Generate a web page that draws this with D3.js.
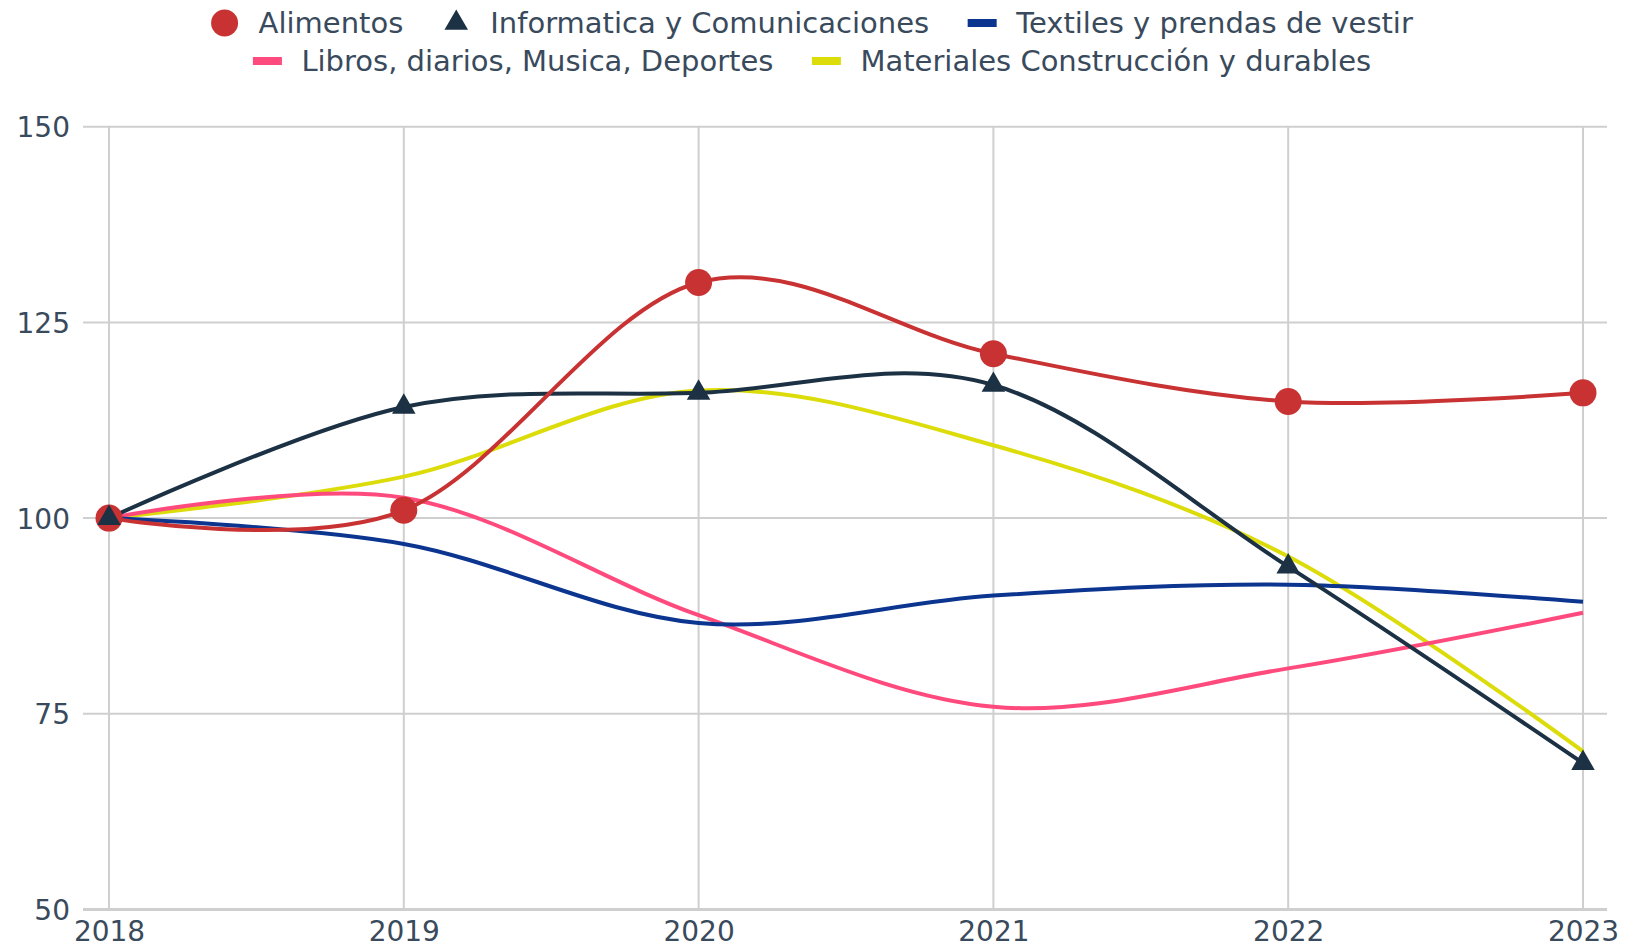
<!DOCTYPE html>
<html>
<head>
<meta charset="utf-8">
<script src="https://cdn.jsdelivr.net/npm/d3@7"></script>
<style>
  body { margin: 0; background: #fff; }
  text { font-family: "DejaVu Sans", Verdana, sans-serif; fill: #394a5c; }
</style>
</head>
<body>
<div id="chart"></div>
<script>
const years = [2018, 2019, 2020, 2021, 2022, 2023];
const yTicks = [50, 75, 100, 125, 150];

const alimentos = [100, 101.0, 130.1, 121.0, 114.9, 116.0];
const informatica = [100, 114.2, 116.0, 117.0, 93.8, 68.7];
const textiles = [100, 96.7, 86.6, 90.1, 91.5, 89.3];
const libros = [100, 102.6, 87.6, 75.9, 80.8, 87.9];
const materiales = [100, 105.3, 116.3, 109.3, 95.1, 70.2];

const series = [
  { name: "Alimentos", values: alimentos, color: "#c83232", marker: "circle", row: 0 },
  { name: "Informatica y Comunicaciones", values: informatica, color: "#1c3144", marker: "triangle", row: 0 },
  { name: "Textiles y prendas de vestir", values: textiles, color: "#0c3590", marker: "line", row: 0 },
  { name: "Libros, diarios, Musica, Deportes", values: libros, color: "#ff4a7d", marker: "line", row: 1 },
  { name: "Materiales Construcción y durables", values: materiales, color: "#dcdc0a", marker: "line", row: 1 }
];

const width = 1628, height = 951;
const plot = { left: 83, right: 1607, top: 126.7, bottom: 909.5 };

const svg = d3.select("#chart").append("svg")
  .attr("width", width)
  .attr("height", height);

const x = d3.scaleLinear().domain([2018, 2023]).range([109, 1583]);
const y = d3.scaleLinear().domain([50, 150]).range([plot.bottom, plot.top]);

// grid
svg.append("g")
  .selectAll("line")
  .data(yTicks)
  .join("line")
  .attr("x1", plot.left).attr("x2", plot.right)
  .attr("y1", d => y(d)).attr("y2", d => y(d))
  .attr("stroke", "#cfcfcf")
  .attr("stroke-width", d => d === 50 ? 3 : 2);

svg.append("g")
  .selectAll("line")
  .data(years)
  .join("line")
  .attr("x1", d => x(d)).attr("x2", d => x(d))
  .attr("y1", plot.top).attr("y2", plot.bottom)
  .attr("stroke", "#cfcfcf")
  .attr("stroke-width", 2);

// axes
const yAxis = svg.append("g")
  .attr("transform", `translate(${plot.left - 13},0)`)
  .call(d3.axisLeft(y).tickValues(yTicks).tickSize(0).tickPadding(0));
yAxis.select(".domain").remove();
yAxis.selectAll("text")
  .attr("font-size", 28)
  .attr("font-family", null)
  .attr("fill", null)
  .attr("dy", "0.36em");

const xAxis = svg.append("g")
  .attr("transform", `translate(0,${plot.bottom})`)
  .call(d3.axisBottom(x).tickValues(years).tickFormat(d3.format("d")).tickSize(0).tickPadding(12));
xAxis.select(".domain").remove();
xAxis.selectAll("text")
  .attr("font-size", 28)
  .attr("font-family", null)
  .attr("fill", null);

// lines
const line = d3.line()
  .x((d, i) => x(years[i]))
  .y(d => y(d))
  .curve(d3.curveCardinal.tension(0));

const drawOrder = [4, 3, 2, 1, 0];
drawOrder.forEach(k => {
  const s = series[k];
  svg.append("path")
    .datum(s.values)
    .attr("d", line)
    .attr("fill", "none")
    .attr("stroke", s.color)
    .attr("stroke-width", 4);
});

const triangle = d3.symbol().type(d3.symbolTriangle).size(240);

svg.append("g")
  .selectAll("circle")
  .data(alimentos)
  .join("circle")
  .attr("cx", (d, i) => x(years[i]))
  .attr("cy", d => y(d))
  .attr("r", 13.5)
  .attr("fill", series[0].color);

svg.append("g")
  .selectAll("path")
  .data(informatica)
  .join("path")
  .attr("d", triangle)
  .attr("transform", (d, i) => `translate(${x(years[i])},${y(d)})`)
  .attr("fill", series[1].color);

// legend
const legend = svg.append("g");
const rowY = [23, 61];
const legendCenter = 812;

[0, 1].forEach(r => {
  const items = series.filter(s => s.row === r);
  const g = legend.append("g");
  let cx = 0;
  items.forEach((s, i) => {
    const item = g.append("g").attr("transform", `translate(${cx},${rowY[r]})`);
    if (s.marker === "circle") {
      item.append("circle").attr("r", 13.5).attr("fill", s.color);
    } else if (s.marker === "triangle") {
      item.append("path").attr("d", triangle()).attr("fill", s.color);
    } else {
      item.append("rect")
        .attr("x", -14.5).attr("y", -4)
        .attr("width", 29).attr("height", 8)
        .attr("fill", s.color);
    }
    const t = item.append("text")
      .attr("x", 34)
      .attr("dy", "0.36em")
      .attr("font-size", 29)
      .text(s.name);
    const w = t.node().getComputedTextLength();
    cx += 34 + w + 53;
  });
  const bb = g.node().getBBox();
  g.attr("transform", `translate(${legendCenter - (bb.x + bb.width / 2)},0)`);
});
</script>
</body>
</html>
